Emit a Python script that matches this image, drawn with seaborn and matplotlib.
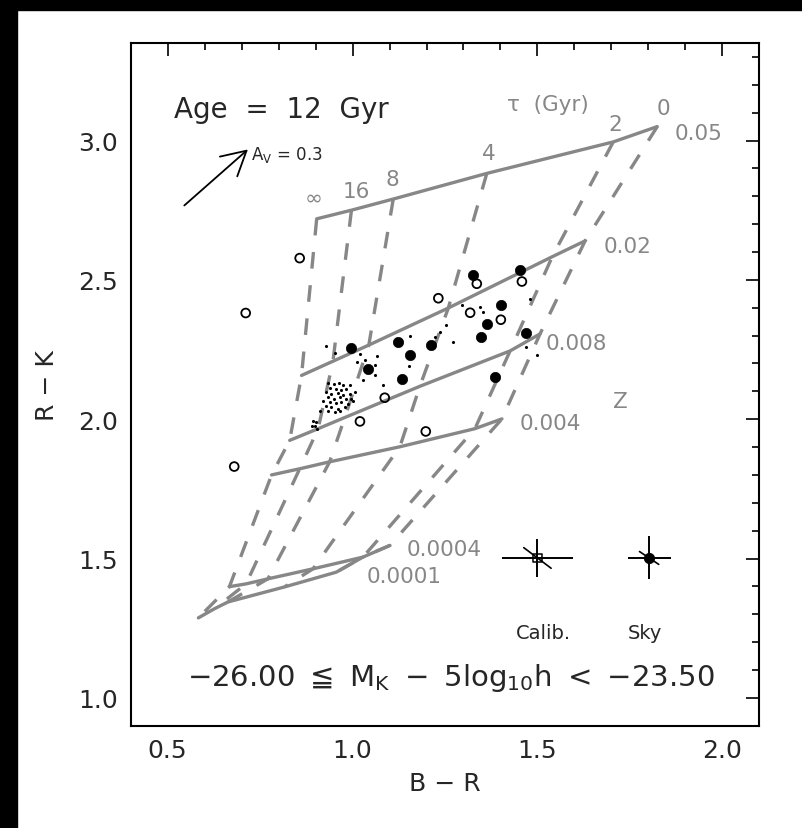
import numpy as np
import pandas as pd
import matplotlib
matplotlib.use("Agg")
import matplotlib.pyplot as plt
import seaborn as sns
from matplotlib.patches import Rectangle
from matplotlib.ticker import MultipleLocator

sns.set_theme(style="white")
plt.rcParams['font.family'] = ['DejaVu Sans']
plt.rcParams['mathtext.fontset'] = 'dejavusans'

# ---------------- data ----------------
metallicity = ["0.05", "0.02", "0.008", "0.004", "0.0004", "0.0001"]
tau_gyr = ["inf", "16", "8", "4", "2", "0"]

br_z0p05 = [0.903, 0.997, 1.110, 1.363, 1.705, 1.824]
rk_z0p05 = [2.719, 2.750, 2.790, 2.882, 2.995, 3.050]
br_z0p02 = [0.862, 0.947, 1.044, 1.259, 1.540, 1.629]
rk_z0p02 = [2.157, 2.208, 2.266, 2.399, 2.583, 2.640]
br_z0p008 = [0.830, 0.907, 0.979, 1.182, 1.426, 1.507]
rk_z0p008 = [1.924, 1.966, 2.006, 2.118, 2.245, 2.306]
br_z0p004 = [0.781, 0.857, 0.938, 1.128, 1.331, 1.404]
rk_z0p004 = [1.800, 1.822, 1.847, 1.901, 1.966, 2.001]
br_z0p0004 = [0.667, 0.712, 0.771, 0.893, 1.028, 1.101]
rk_z0p0004 = [1.399, 1.409, 1.427, 1.463, 1.505, 1.547]
br_z0p0001 = [0.583, 0.627, 0.663, 0.816, 0.956, 1.028]
rk_z0p0001 = [1.287, 1.320, 1.344, 1.398, 1.451, 1.505]

filled_br = [0.997, 1.042, 1.122, 1.155, 1.135, 1.212, 1.325, 1.453, 1.401,
             1.363, 1.347, 1.469, 1.386]
filled_rk = [2.256, 2.181, 2.277, 2.229, 2.145, 2.268, 2.518, 2.534, 2.410,
             2.342, 2.294, 2.309, 2.151]

open_br = [0.857, 0.711, 0.680, 1.232, 1.336, 1.318, 1.401, 1.458, 1.087,
           1.020, 1.198]
open_rk = [2.578, 2.381, 1.830, 2.434, 2.486, 2.382, 2.357, 2.494, 2.077,
           1.992, 1.956]

dots_br = [0.934, 0.949, 0.964, 0.974, 0.992, 0.938, 0.956, 0.970, 0.983,
           0.929, 0.943, 0.961, 0.974, 0.992, 1.006, 0.934, 0.949, 0.965,
           0.981, 0.997, 0.920, 0.938, 0.956, 0.970, 0.988, 1.001, 0.929,
           0.943, 0.961, 0.979, 0.911, 0.934, 0.952, 0.965, 0.893, 0.902,
           0.889, 0.898, 0.904,
           0.929, 0.952, 1.020, 1.065, 1.033, 1.011, 1.060, 1.029, 1.060,
           1.083, 1.155, 1.153, 1.223, 1.236, 1.254, 1.271, 1.295, 1.345,
           1.354, 1.480, 1.500, 1.470]
dots_rk = [2.131, 2.127, 2.129, 2.121, 2.123, 2.111, 2.109, 2.103, 2.107,
           2.097, 2.091, 2.095, 2.088, 2.091, 2.097, 2.079, 2.073, 2.079,
           2.071, 2.073, 2.064, 2.061, 2.059, 2.061, 2.055, 2.064, 2.047,
           2.043, 2.037, 2.043, 2.031, 2.028, 2.025, 2.031, 1.995, 1.989,
           1.977, 1.975, 1.966,
           2.262, 2.238, 2.235, 2.226, 2.211, 2.205, 2.195, 2.139, 2.157,
           2.121, 2.300, 2.190, 2.294, 2.312, 2.339, 2.277, 2.411, 2.402,
           2.384, 2.432, 2.230, 2.260]

# error-bar symbols
err_labels = ["Calib.", "Sky"]
err_br = [1.500, 1.802]
err_rk = [1.502, 1.502]
err_xerr = [0.095, 0.058]
err_yerr = [0.068, 0.077]
err_diag_dbr = [0.037, 0.026]
err_diag_drk = [0.037, 0.023]

# ---------------- build tables ----------------
grid_br = [br_z0p05, br_z0p02, br_z0p008, br_z0p004, br_z0p0004, br_z0p0001]
grid_rk = [rk_z0p05, rk_z0p02, rk_z0p008, rk_z0p004, rk_z0p0004, rk_z0p0001]
rows = []
for zi, z in enumerate(metallicity):
    for ti, t in enumerate(tau_gyr):
        rows.append(dict(Z=z, zi=zi, tau=t, ti=ti,
                         BR=grid_br[zi][ti], RK=grid_rk[zi][ti]))
grid = pd.DataFrame(rows)
solid = grid.sort_values(["zi", "ti"]).reset_index(drop=True)
dashed = grid.sort_values(["ti", "zi"]).reset_index(drop=True)

gray = "#878787"
ink = "#262626"

fig = plt.figure(figsize=(8.02, 8.29), dpi=100)
fig.patch.set_facecolor("white")
fig.patches.append(Rectangle((0, 0), 17 / 802, 1, transform=fig.transFigure,
                             color="black", zorder=-5))
fig.patches.append(Rectangle((0, 1 - 11 / 829), 1, 11 / 829,
                             transform=fig.transFigure, color="black", zorder=-5))

ax = fig.add_axes([130.7 / 802, 1 - 726.7 / 829, 628.6 / 802, 682.7 / 829])

sns.lineplot(data=solid, x="BR", y="RK", units="Z", estimator=None, sort=False,
             color=gray, lw=2.4, ax=ax, legend=False)
sns.lineplot(data=dashed, x="BR", y="RK", units="tau", estimator=None, sort=False,
             color=gray, lw=2.4, ax=ax, legend=False, linestyle=(0, (5, 5)))

sns.scatterplot(x=dots_br, y=dots_rk, s=5, color="black", edgecolor="black",
                linewidth=0, ax=ax, zorder=4)
sns.scatterplot(x=open_br, y=open_rk, s=40, facecolors="none",
                edgecolor="black", linewidth=1.3, ax=ax, zorder=5)
sns.scatterplot(x=filled_br, y=filled_rk, s=55, color="black",
                edgecolor="black", linewidth=0.5, ax=ax, zorder=5)

# error symbols
for i in range(2):
    ax.errorbar(err_br[i], err_rk[i], xerr=err_xerr[i], yerr=err_yerr[i],
                fmt="none", ecolor="black", elinewidth=1.4, capsize=0, zorder=5)
    ax.plot([err_br[i] - err_diag_dbr[i], err_br[i] + err_diag_dbr[i]],
            [err_rk[i] + err_diag_drk[i], err_rk[i] - err_diag_drk[i]],
            color="black", lw=1.2, zorder=5)
sns.scatterplot(x=err_br[:1], y=err_rk[:1], marker="s", s=40, facecolors="none",
                edgecolor="black", linewidth=1.1, ax=ax, zorder=6)
sns.scatterplot(x=err_br[1:], y=err_rk[1:], marker="o", s=55, color="black",
                edgecolor="black", ax=ax, zorder=6)
for i in range(2):
    ax.text(err_br[i] + (0.016 if i == 0 else -0.01), 1.216, err_labels[i],
            ha="center", va="baseline", fontsize=14, color=ink)

# reddening arrow
ax.annotate("", xy=(0.717, 2.968), xytext=(0.545, 2.767),
            arrowprops=dict(arrowstyle="->,head_length=0.4,head_width=0.22",
                            lw=1.3, color="black", mutation_scale=43,
                            shrinkA=0, shrinkB=0))
ax.text(0.726, 2.934, r"A$_\mathrm{V}$ = 0.3", fontsize=12, color=ink,
        ha="left", va="baseline")

# texts
ax.text(0.518, 3.084, "Age  =  12  Gyr", fontsize=20, color=ink,
        ha="left", va="baseline")
gl = dict(color=gray, fontsize=15.5, va="baseline", ha="left")
ax.text(1.417, 3.108, "τ  (Gyr)", **gl)
ax.text(1.823, 3.096, "0", **gl)
ax.text(1.692, 3.036, "2", **gl)
ax.text(1.349, 2.934, "4", **gl)
ax.text(1.090, 2.841, "8", **gl)
ax.text(0.974, 2.797, "16", **gl)
ax.text(0.870, 2.773, "∞", **gl)
ax.text(1.870, 3.006, "0.05", **gl)
ax.text(1.679, 2.600, "0.02", **gl)
ax.text(1.521, 2.253, "0.008", **gl)
ax.text(1.453, 1.966, "0.004", **gl)
ax.text(1.703, 2.044, "Z", **gl)
ax.text(1.146, 1.513, "0.0004", **gl)
ax.text(1.038, 1.415, "0.0001", **gl)

ax.text(1.265, 1.047,
        r"${-}26.00\ \leqq\ \mathrm{M_K}\ -\ \mathrm{5log_{10}h}\ <\ {-}23.50$",
        fontsize=21, color=ink, ha="center", va="baseline")

# axes styling
ax.set_xlim(0.4, 2.1)
ax.set_ylim(0.9, 3.35)
ax.xaxis.set_major_locator(MultipleLocator(0.5))
ax.xaxis.set_minor_locator(MultipleLocator(0.1))
ax.yaxis.set_major_locator(MultipleLocator(0.5))
ax.yaxis.set_minor_locator(MultipleLocator(0.1))
ax.tick_params(which="both", direction="in", top=True, right=True,
               color="black", width=1.2)
ax.tick_params(which="major", length=9.5, labelsize=18, pad=9,
               labelcolor=ink)
ax.tick_params(which="minor", length=4.8)
for sp in ax.spines.values():
    sp.set_color("black")
    sp.set_linewidth(1.5)
ax.set_xlabel("B − R", fontsize=18, color=ink, labelpad=6)
ax.set_ylabel("R − K", fontsize=18, color=ink, labelpad=14)
ax.set_facecolor("white")

fig.savefig("out.png", dpi=100, facecolor=fig.get_facecolor())
